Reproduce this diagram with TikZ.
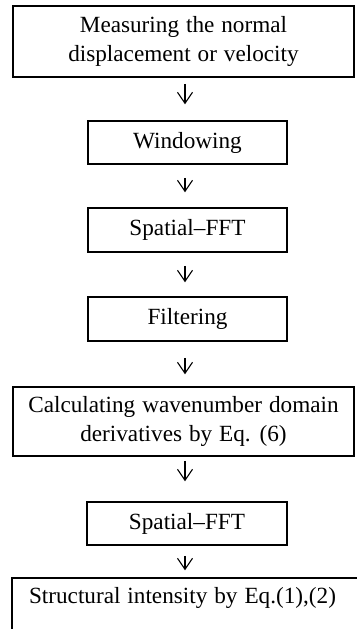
\documentclass[tikz,border=0pt]{standalone}
\usepackage{fontspec}
\setmainfont{Liberation Serif}
\usetikzlibrary{arrows.meta}
\newcommand\boxtextfont{\fontsize{11.6}{14.5}\selectfont\spaceskip=0.3em plus 0.1em\relax}
\begin{document}
\begin{tikzpicture}[x=0.5pt,y=-0.5pt,
  txt/.style={inner sep=0pt, align=center, font=\boxtextfont},
  box/.style={txt, draw, line width=0.75pt},
  arr/.style={line width=0.55pt, -{Straight Barb[length=5.5pt,width=7.5pt]}}]
\useasboundingbox (0,0) rectangle (357,629);
\clip (0,0) rectangle (357,629);
\coordinate (ax) at (185,0);
\node[box, minimum width=170.5pt, minimum height=35.5pt] (b1) at (183.5,41.5) {Measuring the normal\\displacement or velocity};
\node[box, minimum width=99.5pt, minimum height=21.5pt] (b2) at (187.5,142.5) {Windowing};
\node[box, minimum width=99.5pt, minimum height=22pt] (b3) at (187.5,230) {Spatial--FFT};
\node[box, minimum width=99.5pt, minimum height=22pt] (b4) at (187.5,319) {Filtering};
\node[box, minimum width=170.5pt, minimum height=34.5pt] (b5) at (183.5,421.5) {Calculating wavenumber domain\\derivatives by Eq. (6)};
\node[box, minimum width=100pt, minimum height=21.5pt] (b6) at (187,523.5) {Spatial--FFT};
\node[box, minimum width=179pt, minimum height=51pt] (b7) at (191,629) {};
\node[txt] (t7) at (182.5,598) {Structural intensity by Eq.(1),(2)};
\draw[arr, shorten <=3pt, shorten >=8pt] (b1.south -| ax) -- (b2.north -| ax);
\draw[arr, shorten <=6.5pt, shorten >=7.5pt] (b2.south -| ax) -- (b3.north -| ax);
\draw[arr, shorten <=6.5pt, shorten >=7pt] (b3.south -| ax) -- (b4.north -| ax);
\draw[arr, shorten <=8pt, shorten >=6pt] (b4.south -| ax) -- (b5.north -| ax);
\draw[arr, shorten <=2pt, shorten >=10pt] (b5.south -| ax) -- (b6.north -| ax);
\draw[arr, shorten <=5pt, shorten >=3.5pt] (b6.south -| ax) -- (b7.north -| ax);
\end{tikzpicture}
\end{document}
